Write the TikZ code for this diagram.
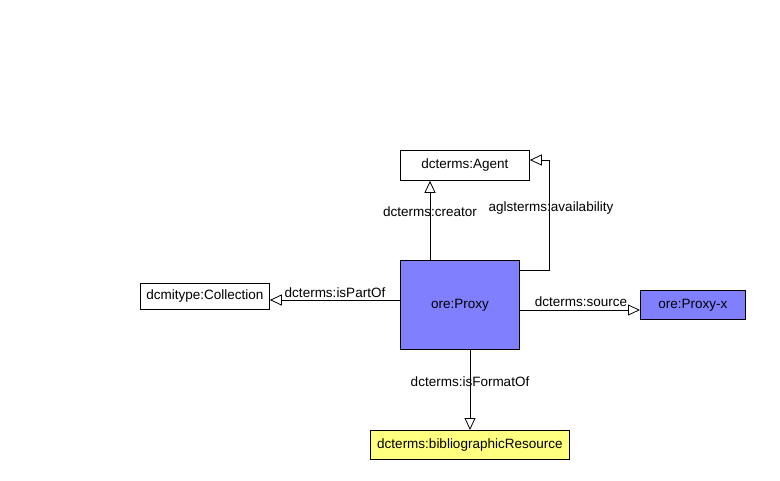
\documentclass[tikz,border=0pt]{standalone}
\usepackage{fontspec}
\setmainfont{Liberation Sans}
\usetikzlibrary{arrows.meta}
\definecolor{proxyblue}{HTML}{8080FF}
\definecolor{resyellow}{HTML}{FFFF80}
\begin{document}
\begin{tikzpicture}[x=1pt,y=-1pt,
  font=\fontsize{13.5}{16}\selectfont,
  box/.style={draw=black, line width=0.8pt, inner sep=0pt, anchor=north west, fill=white},
  rel/.style={draw=black, line width=0.8pt, -{Triangle[open, length=12pt, width=11pt, fill=white]}},
  lbl/.style={inner sep=0pt, fill=none}]
\useasboundingbox (0,0) rectangle (780,480);
\node[box, minimum width=129pt, minimum height=30pt] (agent) at (400,150) {dcterms:Agent};
\node[box, fill=proxyblue, minimum width=119pt, minimum height=89pt] (proxy) at (400,260) {ore:Proxy};
\node[box, minimum width=129pt, minimum height=26pt] (coll) at (140,283) {dcmitype:Collection};
\node[box, fill=proxyblue, minimum width=105pt, minimum height=29pt] (proxyx) at (640,290) {ore:Proxy-x};
\node[box, fill=resyellow, minimum width=199pt, minimum height=29pt] (bib) at (370,430) {dcterms:bibliographicResource};
% creator
\draw[rel] (proxy.north west) ++(30,0) coordinate (c1) -- (c1 |- agent.south);
\node[lbl] (lcreator) at (430,212) {dcterms:creator};
% availability
\coordinate (a1) at (proxy.north east |- 0,270);
\coordinate (a2) at (549,270);
\coordinate (a3) at (549,160);
\draw[rel] (a1) -- (a2) -- (a3) -- (agent.east |- a3);
\node[lbl] (lavail) at (551,208) {aglsterms:availability};
% isPartOf
\coordinate (p1) at (400,300);
\draw[rel] (p1) -- (coll.east |- p1);
\node[lbl] (lpart) at (335,293) {dcterms:isPartOf};
% source
\coordinate (s1) at (519,310);
\draw[rel] (s1) -- (proxyx.west |- s1);
\node[lbl] (lsource) at (581,302) {dcterms:source};
% isFormatOf
\coordinate (f1) at (470,349);
\draw[rel] (f1) -- (f1 |- bib.north);
\node[lbl] (lformat) at (470,382) {dcterms:isFormatOf};
\end{tikzpicture}
\end{document}
